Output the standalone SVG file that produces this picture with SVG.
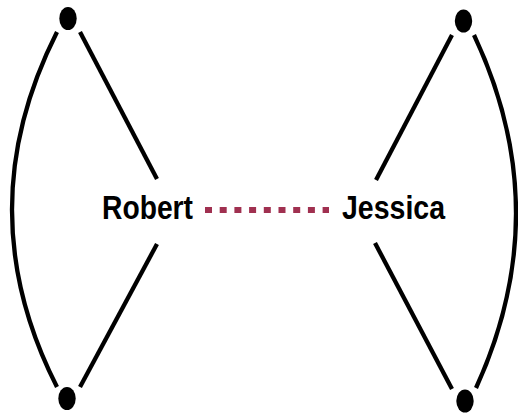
<svg xmlns="http://www.w3.org/2000/svg" width="518" height="414" viewBox="0 0 518 414">
<style>
.edge{fill:none;stroke:#000;stroke-width:4.3}
.dot{fill:#000}
.lbl{font-family:"Liberation Sans",Arial,sans-serif;font-weight:bold;font-size:33px;fill:#000}
.rel{fill:none;stroke:#a03050;stroke-width:6;stroke-dasharray:7 7.7}
</style>
<rect width="518" height="414" fill="#fff"/>
<g id="connectors">
<path class="edge" d="M57,32 Q-33,210 57,387"/>
<path class="edge" d="M80,32 L157,179"/>
<path class="edge" d="M80,387 L157,244"/>
<path class="edge" d="M474,35 Q557,211 476,388"/>
<path class="edge" d="M452,35 L376,180"/>
<path class="edge" d="M452,389 L375,243"/>
<path class="rel" d="M205,210 L329,210"/>
</g>
<g id="n-tl"><ellipse class="dot" cx="68" cy="18.5" rx="8.7" ry="11.5"/></g>
<g id="n-bl"><ellipse class="dot" cx="67" cy="398.5" rx="8.7" ry="11.5"/></g>
<g id="n-tr"><ellipse class="dot" cx="463.5" cy="21" rx="8.7" ry="11.5"/></g>
<g id="n-br"><ellipse class="dot" cx="465" cy="401" rx="8.7" ry="11.5"/></g>
<g id="robert"><text class="lbl" x="102" y="218.5" textLength="91" lengthAdjust="spacingAndGlyphs">Robert</text></g>
<g id="jessica"><text class="lbl" x="342" y="218.5" textLength="103" lengthAdjust="spacingAndGlyphs">Jessica</text></g>
</svg>
